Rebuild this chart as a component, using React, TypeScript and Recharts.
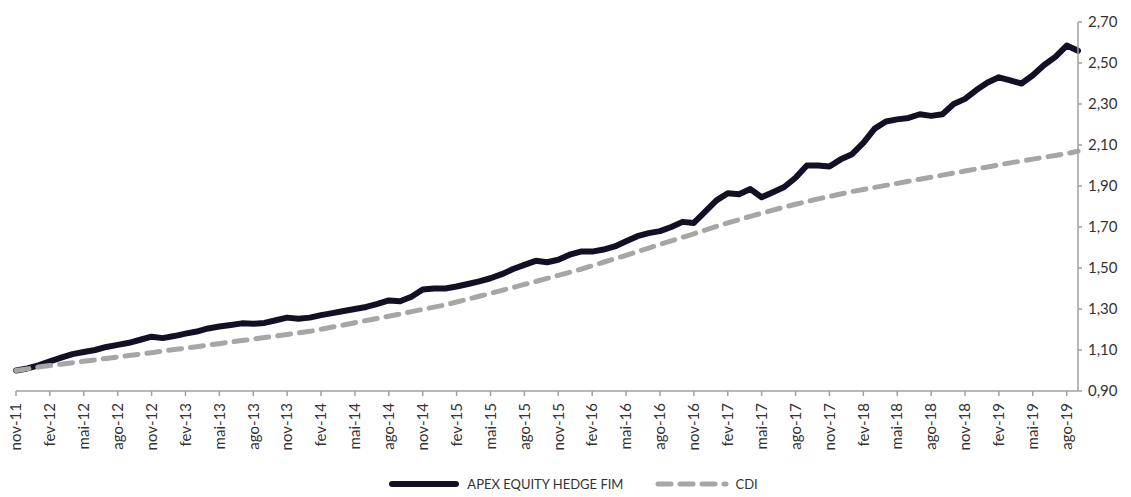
import { Legend, Line, LineChart, XAxis, YAxis } from "recharts";

const MONTHS = ["jan", "fev", "mar", "abr", "mai", "jun", "jul", "ago", "set", "out", "nov", "dez"];

// monthly closes, nov-11 .. set-19 (index 0 = nov-11)
const APEX = [
    1.0, 1.01, 1.025, 1.045, 1.063, 1.08, 1.09, 1.1, 1.115, 1.125, 1.135, 1.15,
    1.165, 1.158, 1.168, 1.18, 1.19, 1.205, 1.215, 1.222, 1.23, 1.228, 1.232, 1.245,
    1.258, 1.252, 1.258, 1.27, 1.28, 1.29, 1.3, 1.31, 1.325, 1.342, 1.338, 1.36,
    1.395, 1.4, 1.4, 1.41, 1.422, 1.435, 1.45, 1.47, 1.495, 1.515, 1.535, 1.528,
    1.54, 1.565, 1.58, 1.58, 1.59, 1.605, 1.63, 1.655, 1.67, 1.68, 1.7, 1.725,
    1.72, 1.775, 1.83, 1.865, 1.86, 1.885, 1.845, 1.87, 1.895, 1.94, 2.0, 2.0,
    1.995, 2.03, 2.055, 2.11, 2.18, 2.215, 2.225, 2.232, 2.25, 2.242, 2.25, 2.3,
    2.325, 2.368, 2.405, 2.43, 2.415, 2.4, 2.44, 2.49, 2.53, 2.585, 2.56,
];

const CDI = [
    1.0, 1.008, 1.017, 1.024, 1.031, 1.038, 1.045, 1.052, 1.059, 1.066, 1.073, 1.08,
    1.087, 1.095, 1.102, 1.109, 1.116, 1.124, 1.131, 1.139, 1.146, 1.153, 1.161, 1.168,
    1.176, 1.184, 1.191, 1.201, 1.212, 1.222, 1.233, 1.244, 1.254, 1.265, 1.276, 1.287,
    1.298, 1.309, 1.32, 1.334, 1.348, 1.362, 1.376, 1.391, 1.405, 1.42, 1.434, 1.449,
    1.464, 1.479, 1.494, 1.511, 1.528, 1.545, 1.562, 1.58, 1.597, 1.615, 1.632, 1.65,
    1.667, 1.685, 1.703, 1.72, 1.736, 1.752, 1.767, 1.782, 1.797, 1.811, 1.824, 1.837,
    1.849, 1.861, 1.873, 1.883, 1.893, 1.903, 1.913, 1.923, 1.933, 1.943, 1.953, 1.963,
    1.973, 1.983, 1.993, 2.003, 2.013, 2.022, 2.031, 2.04, 2.049, 2.058, 2.07,
];

const Y_TICKS = [0.9, 1.1, 1.3, 1.5, 1.7, 1.9, 2.1, 2.3, 2.5, 2.7];

const labels = APEX.map((_, i) => {
    const m = (10 + i) % 12;
    const y = 11 + Math.floor((10 + i) / 12);
    return `${MONTHS[m]}-${y}`;
});

const data = labels.map((label, i) => ({ label, apex: APEX[i], cdi: CDI[i] }));

const FONT = "Lato, 'Open Sans', sans-serif";
const AXIS = "#a0a0a0";
const NAVY = "#150f25";
const GRAY = "#a6a6a6";

function MonthTick({ x, y, payload }: any) {
    return (
        <text
            x={x}
            y={y}
            transform={`rotate(-90, ${x}, ${y})`}
            textAnchor="end"
            dy="0.35em"
            fontSize={15}
            fontFamily={FONT}
            fill="#333"
        >
            {payload.value}
        </text>
    );
}

function renderLegend() {
    return (
        <div style={{ display: "flex", justifyContent: "center", alignItems: "center", height: 26, fontFamily: FONT, fontSize: 13, color: "#333" }}>
            <svg width={70} height={8} style={{ marginRight: 8 }}>
                <line x1={3} y1={4} x2={67} y2={4} stroke={NAVY} strokeWidth={6} strokeLinecap="round" />
            </svg>
            <span style={{ marginRight: 32 }}>APEX EQUITY HEDGE FIM</span>
            <svg width={74} height={8} style={{ marginRight: 6 }}>
                <line x1={3} y1={4} x2={71} y2={4} stroke={GRAY} strokeWidth={5} strokeLinecap="round" strokeDasharray="13 9" />
            </svg>
            <span>CDI</span>
        </div>
    );
}

export default function App() {
    return (
        <LineChart width={1123} height={489} data={data} margin={{ top: 14, right: 0, bottom: 0, left: 8 }}>
            <XAxis
                dataKey="label"
                interval={2}
                tick={<MonthTick />}
                tickSize={5}
                tickMargin={7}
                height={80}
                axisLine={{ stroke: AXIS, strokeWidth: 1.5 }}
                tickLine={{ stroke: AXIS, strokeWidth: 1.5 }}
            />
            <YAxis
                orientation="right"
                domain={[0.9, 2.7]}
                ticks={Y_TICKS}
                width={53}
                tickSize={4}
                tickMargin={6}
                tickFormatter={(v: number) => v.toFixed(2).replace(".", ",")}
                tick={{ fontSize: 15, fontFamily: FONT, fill: "#333", textAnchor: "start" }}
                axisLine={{ stroke: AXIS, strokeWidth: 1.5 }}
                tickLine={{ stroke: AXIS, strokeWidth: 1.5 }}
            />
            <Legend verticalAlign="bottom" height={26} content={renderLegend} />
            <Line
                type="linear"
                dataKey="apex"
                stroke={NAVY}
                strokeWidth={6}
                strokeLinejoin="round"
                strokeLinecap="round"
                dot={false}
                isAnimationActive={false}
            />
            <Line
                type="linear"
                dataKey="cdi"
                stroke={GRAY}
                strokeWidth={5}
                strokeDasharray="13 9"
                strokeLinecap="round"
                dot={false}
                isAnimationActive={false}
            />
        </LineChart>
    );
}
